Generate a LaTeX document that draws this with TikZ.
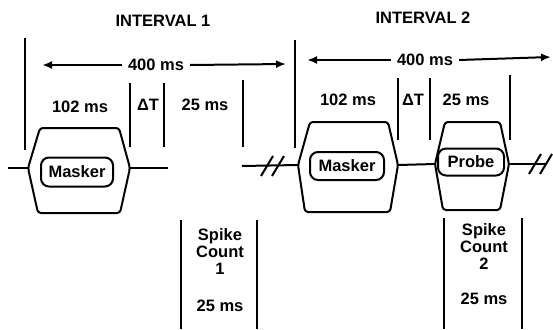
\documentclass[tikz,border=0pt]{standalone}
\usepackage{fontspec}
\setmainfont{Liberation Sans}
\usetikzlibrary{arrows.meta,positioning}
\tikzset{
  lbl/.style={font=\bfseries\fontsize{16.5}{17}\selectfont,inner sep=1pt},
  ln/.style={line width=2pt},
  env/.style={ln,rounded corners=3pt,line join=round},
  stim/.style={draw,line width=2pt,rounded corners=8pt,minimum height=28pt,inner sep=0pt,
    font=\bfseries\fontsize{16.5}{17}\selectfont},
  tip/.style={-{Latex[length=10pt,width=8pt]}}
}

\begin{document}
\begin{tikzpicture}[x=1pt,y=-1pt]
  \useasboundingbox (0,0) rectangle (553,329);
  % titles
  \node[lbl] (int1) at (163,21) {INTERVAL 1};
  \node[lbl] (int2) at (423,18) {INTERVAL 2};
  % 400 ms spans
  \node[lbl,inner sep=6pt] (d1) at (156,65) {400 ms};
  \node[lbl,inner sep=6pt] (d2) at (425,60) {400 ms};
  \coordinate (d1l) at (42,65);  \coordinate (d1r) at (286,64);
  \coordinate (d2l) at (307,60); \coordinate (d2r) at (551,57);
  \draw[ln,tip] (d1.west) -- (d1l);
  \draw[ln,tip] (d1.east) -- (d1r);
  \draw[ln,tip] (d2.west) -- (d2l);
  \draw[ln,tip] (d2.east) -- (d2r);
  % interval and segment markers
  \foreach \x/\ya/\yb in {25/38/150,130/83/147,164/83/147,243/80/147,
                          295/40/148,398/78/140,430/78/140,510/75/140}
    \draw[ln] (\x,\ya) -- (\x,\yb);
  \node[lbl] (w1a) at (80,107)  {102 ms};
  \node[lbl] (w1b) at (148,105) {ΔT};
  \node[lbl] (w1c) at (205,105) {25 ms};
  \node[lbl] (w2a) at (348,100) {102 ms};
  \node[lbl] (w2b) at (413,100) {ΔT};
  \node[lbl] (w2c) at (466,100) {25 ms};
  % envelopes
  \coordinate (m1w) at (28,168);  \coordinate (m1e) at (130,168);
  \coordinate (m2w) at (298,165); \coordinate (m2e) at (398,165);
  \coordinate (p2w) at (435,164); \coordinate (p2e) at (509,164);
  \draw[env] (m1w) -- (40,128) -- (119,128) -- (m1e) -- (120,213) -- (38,213) -- cycle;
  \draw[env] (m2w) -- (310,122) -- (388,122) -- (m2e) -- (390,212) -- (305,212) -- cycle;
  \draw[env] (p2w) -- (445,122) -- (500,122) -- (p2e) -- (500,210) -- (443,210) -- cycle;
  \node[stim,minimum width=72pt,minimum height=29pt] (mask1) at (77,172)  {Masker};
  \node[stim,minimum width=74pt] (mask2) at (347,166) {Masker};
  \node[stim,minimum width=66pt,minimum height=27pt] (probe) at (471,162) {Probe};
  % baseline with breaks
  \coordinate (b1s) at (8,168);   \coordinate (b1e) at (168,168);
  \coordinate (b2s) at (242,166); \coordinate (b3e) at (546,164);
  \draw[ln] (b1s) -- (m1w);
  \draw[ln] (m1e) -- (b1e);
  \draw[ln] (b2s) -- (m2w);
  \draw[ln] (m2e) -- (p2w);
  \draw[ln] (p2e) -- (b3e);
  \foreach \x/\y in {267/166,278/166,535/164,546/164}
    \draw[ln] ({\x-6},{\y+10}) -- ({\x+6},{\y-10});
  % spike count windows
  \foreach \x/\y in {181/220,257/220,444/218,522/218}
    \draw[ln] (\x,\y) -- (\x,329);
  \node[lbl,align=center] (sc1) at (220,252) {Spike\\Count\\1};
  \node[lbl] (sc1d) at (220,306) {25 ms};
  \node[lbl,align=center] (sc2) at (484,247) {Spike\\Count\\2};
  \node[lbl] (sc2d) at (484,299) {25 ms};
\end{tikzpicture}
\end{document}
